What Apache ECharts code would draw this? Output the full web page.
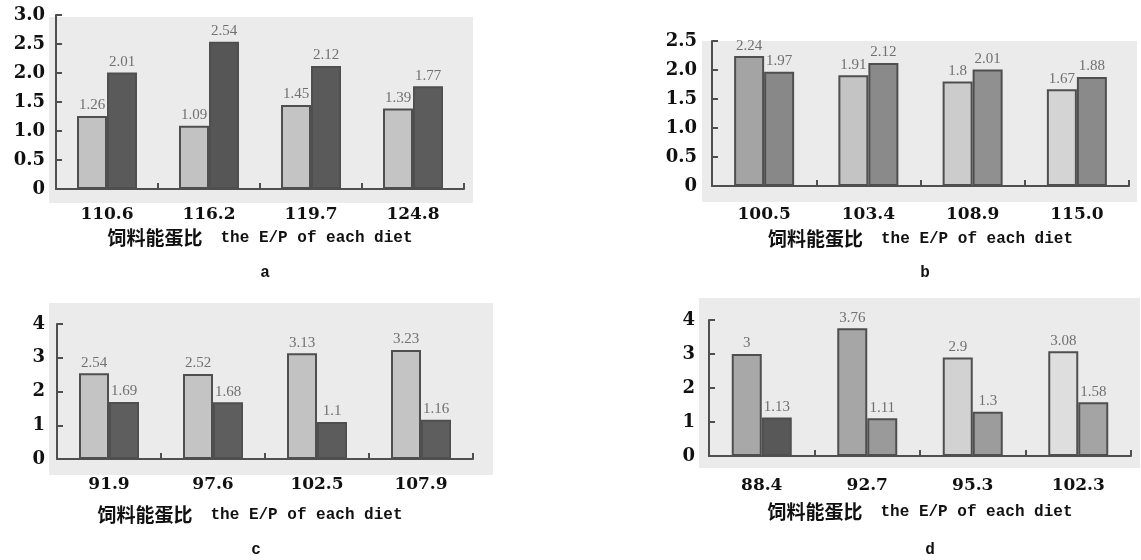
<!DOCTYPE html>
<html><head><meta charset="utf-8">
<script src="https://cdn.jsdelivr.net/npm/echarts@6/dist/echarts.min.js"></script>
<style>html,body{margin:0;padding:0;background:#fff}#c{width:1141px;height:560px}</style>
</head><body><div id="c"></div>
<script>
// ---- data ----
const catsA = ['110.6', '116.2', '119.7', '124.8'];
const lightA = [1.26, 1.09, 1.45, 1.39];
const darkA = [2.01, 2.54, 2.12, 1.77];

const catsB = ['100.5', '103.4', '108.9', '115.0'];
const lightB = [2.24, 1.91, 1.8, 1.67];
const darkB = [1.97, 2.12, 2.01, 1.88];

const catsC = ['91.9', '97.6', '102.5', '107.9'];
const lightC = [2.54, 2.52, 3.13, 3.23];
const darkC = [1.69, 1.68, 1.1, 1.16];

const catsD = ['88.4', '92.7', '95.3', '102.3'];
const lightD = [3, 3.76, 2.9, 3.08];
const darkD = [1.13, 1.11, 1.3, 1.58];

const axisTitleZh = '饲料能蛋比';
const axisTitleEn = 'the E/P of each diet';
const panelLetters = ['a', 'b', 'c', 'd'];

// ---- styles / layout ----
const lightColors = [
  ['#c2c2c2', '#c2c2c2', '#c4c4c4', '#c4c4c4'],
  ['#a4a4a4', '#c4c4c4', '#cccccc', '#d4d4d4'],
  ['#c4c4c4', '#c4c4c4', '#c2c2c2', '#c4c4c4'],
  ['#a8a8a8', '#a6a6a6', '#d2d2d2', '#dedede']
];
const darkColors = [
  ['#5a5a5a', '#565656', '#5a5a5a', '#5c5c5c'],
  ['#888888', '#8a8a8a', '#909090', '#8a8a8a'],
  ['#5e5e5e', '#5e5e5e', '#5c5c5c', '#5e5e5e'],
  ['#585858', '#9a9a9a', '#9c9c9c', '#a4a4a4']
];
const panels = [
  { cats: catsA, light: lightA, dark: darkA, max: 3, interval: 0.5, dec: 1,
    grid: { left: 56, top: 15, width: 408, height: 174 }, bg: [49, 17, 424, 186],
    xMargin: 17, nameGap: 39, namePad: 0, yMargin: 11, letter: [265, 273] },
  { cats: catsB, light: lightB, dark: darkB, max: 2.5, interval: 0.5, dec: 1,
    grid: { left: 712, top: 41, width: 417, height: 145 }, bg: [702, 41, 435, 161],
    xMargin: 20, nameGap: 43, namePad: 0, yMargin: 15, letter: [925, 273] },
  { cats: catsC, light: lightC, dark: darkC, max: 4, interval: 1, dec: 0,
    grid: { left: 57, top: 324, width: 416, height: 135 }, bg: [49, 303, 444, 172],
    xMargin: 17, nameGap: 46, namePad: 30, yMargin: 12, letter: [256, 550] },
  { cats: catsD, light: lightD, dark: darkD, max: 4, interval: 1, dec: 0,
    grid: { left: 709, top: 320, width: 422, height: 136 }, bg: [699, 298, 441, 170],
    xMargin: 21, nameGap: 46, namePad: 0, yMargin: 14, letter: [930, 550] }
];

const axisColor = '#4f4f4f';
const tickFont = '"DejaVu Serif", "Liberation Serif", serif';
const monoFont = '"Liberation Mono", "DejaVu Sans Mono", monospace';

const grids = [], xAxes = [], yAxes = [], series = [], graphics = [];
panels.forEach((p, i) => {
  graphics.push({ type: 'rect', z: -10, silent: true,
    shape: { x: p.bg[0], y: p.bg[1], width: p.bg[2], height: p.bg[3] },
    style: { fill: '#ebebeb' } });
  graphics.push({ type: 'text', silent: true, x: p.letter[0], y: p.letter[1],
    style: { text: panelLetters[i], font: 'bold 16px ' + monoFont, fill: '#111',
      align: 'center', verticalAlign: 'middle' } });
  grids.push(Object.assign({ containLabel: false }, p.grid));
  xAxes.push({
    type: 'category', gridIndex: i, data: p.cats,
    axisLine: { show: true, lineStyle: { color: axisColor, width: 2 } },
    axisTick: { show: true, inside: true, length: 6, lineStyle: { color: axisColor, width: 2 } },
    axisLabel: { margin: p.xMargin, color: '#111', fontFamily: tickFont, fontWeight: 'bold', fontSize: 17 },
    name: '{zh|' + axisTitleZh + '}{en|' + axisTitleEn + '}',
    nameLocation: 'middle', nameGap: p.nameGap,
    nameTextStyle: {
      padding: [0, p.namePad, 0, 0],
      rich: {
        zh: { fontFamily: '"Noto Sans CJK SC", sans-serif', fontWeight: 'bold', fontSize: 19, color: '#111',
          padding: [0, 18, 0, 0] },
        en: { fontFamily: monoFont, fontWeight: 'bold', fontSize: 16, color: '#111' }
      }
    }
  });
  yAxes.push({
    type: 'value', gridIndex: i, min: 0, max: p.max, interval: p.interval,
    splitLine: { show: false },
    axisLine: { show: true, lineStyle: { color: axisColor, width: 2 } },
    axisTick: { show: true, inside: true, length: 6, lineStyle: { color: axisColor, width: 2 } },
    axisLabel: { margin: p.yMargin, color: '#111', fontFamily: tickFont, fontWeight: 'bold', fontSize: 18,
      formatter: v => (v === 0 ? '0' : v.toFixed(p.dec)) }
  });
  const lbl = { show: true, position: 'top', distance: 3, color: '#707070',
    fontFamily: '"Liberation Serif", serif', fontSize: 15 };
  series.push({
    type: 'bar', xAxisIndex: i, yAxisIndex: i, data: p.light, barWidth: 30, barGap: '0%',
    itemStyle: { color: params => lightColors[i][params.dataIndex], borderColor: axisColor, borderWidth: 2 },
    label: lbl, emphasis: { disabled: true }
  });
  series.push({
    type: 'bar', xAxisIndex: i, yAxisIndex: i, data: p.dark, barWidth: 30, barGap: '0%',
    itemStyle: { color: params => darkColors[i][params.dataIndex], borderColor: axisColor, borderWidth: 2 },
    label: lbl, emphasis: { disabled: true }
  });
});

const chart = echarts.init(document.getElementById('c'));
chart.setOption({
  animation: false,
  backgroundColor: '#ffffff',
  grid: grids, xAxis: xAxes, yAxis: yAxes, series: series,
  graphic: graphics
});
</script>
</body></html>
